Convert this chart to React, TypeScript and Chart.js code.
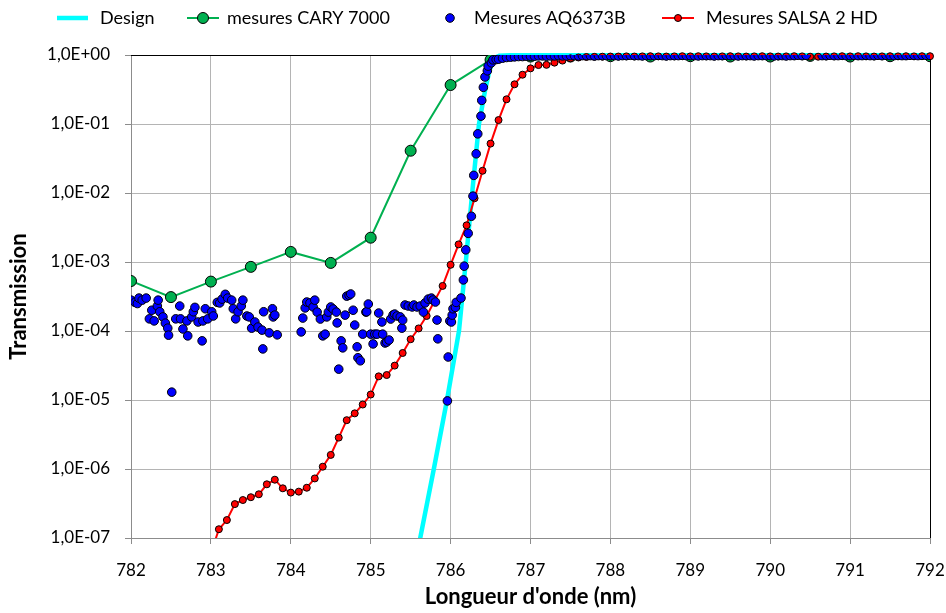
import React, { useEffect, useRef } from 'react';
import { Chart, registerables } from 'chart.js';
Chart.register(...registerables);

const seriesNames = ['Design', 'mesures CARY 7000', 'Mesures AQ6373B', 'Mesures SALSA 2 HD'];
const xAxisTitle = "Longueur d'onde (nm)";
const yAxisTitle = 'Transmission';
const xTickValues = [782, 783, 784, 785, 786, 787, 788, 789, 790, 791, 792];
const yTickValues = [1e-7, 1e-6, 1e-5, 1e-4, 1e-3, 1e-2, 1e-1, 1];
const yTickLabels = ['1,0E-07', '1,0E-06', '1,0E-05', '1,0E-04', '1,0E-03', '1,0E-02', '1,0E-01', '1,0E+00'];

const designWl = [785.55, 785.62, 785.79, 785.955, 786.105, 786.19, 786.27, 786.355, 786.43, 786.487, 786.545, 786.61, 786.74, 792.0];
const designT = [4e-8, 1e-7, 1e-6, 1e-5, 1e-4, 1e-3, 1e-2, 1e-1, 0.3, 0.6, 0.9, 0.98, 0.995, 0.995];

const caryWl = [782, 782.5, 783, 783.5, 784, 784.5, 785, 785.5, 786, 786.5, 787, 787.5, 788, 788.5, 789, 789.5, 790, 790.5, 791, 791.5, 792];
const caryT = [5.3e-4, 3.1e-4, 5.2e-4, 8.5e-4, 1.4e-3, 9.7e-4, 2.25e-3, 4.1e-2, 0.367, 0.85, 0.95, 0.95, 0.96, 0.95, 0.96, 0.95, 0.95, 0.97, 0.95, 0.96, 0.96];

const aqWl = [
  782.00, 782.05, 782.08, 782.10, 782.14, 782.19, 782.23, 782.26, 782.29, 782.33, 782.34, 782.36, 782.40, 782.43, 782.46, 782.47,
  782.51, 782.56, 782.61, 782.62, 782.65, 782.70, 782.71, 782.76, 782.78, 782.80, 782.84, 782.89, 782.90, 782.93, 782.96,
  783.01, 783.03, 783.08, 783.11, 783.14, 783.18, 783.21, 783.26, 783.28, 783.31, 783.34, 783.38, 783.40, 783.45, 783.48,
  783.51, 783.55, 783.59, 783.64, 783.65, 783.66, 783.73, 783.77, 783.78, 783.80, 783.83,
  784.13, 784.15, 784.18, 784.20, 784.24, 784.28, 784.30, 784.33, 784.37, 784.40, 784.43, 784.45, 784.47, 784.50, 784.53,
  784.57, 784.58, 784.60, 784.63, 784.65, 784.68, 784.70, 784.73, 784.75, 784.78, 784.80, 784.83, 784.84, 784.87, 784.90,
  784.94, 784.95, 784.97, 785.00, 785.03, 785.05, 785.08, 785.10, 785.14, 785.15, 785.18, 785.20, 785.23, 785.25, 785.28,
  785.30, 785.33, 785.37, 785.39, 785.40, 785.43, 785.47, 785.52, 785.54, 785.58, 785.62, 785.66, 785.68, 785.72, 785.76,
  785.78, 785.81, 785.83, 785.84, 785.96, 785.97, 785.99, 786.01, 786.02, 786.03, 786.06, 786.07, 786.13, 786.16, 786.17,
  786.19, 786.22, 786.26, 786.28, 786.29, 786.32, 786.34, 786.38, 786.39, 786.41, 786.43, 786.46, 786.47, 786.51, 786.53, 786.57,
  786.60, 786.65, 786.70, 786.75, 786.80, 786.85, 786.90, 786.95,
  787.00, 787.05, 787.10, 787.15, 787.20, 787.25, 787.30, 787.35, 787.40, 787.45, 787.50, 787.55, 787.60, 787.65, 787.70, 787.75, 787.80, 787.85, 787.90, 787.95,
  788.00, 788.05, 788.10, 788.15, 788.20, 788.25, 788.30, 788.35, 788.40, 788.45, 788.50, 788.55, 788.60, 788.65, 788.70, 788.75, 788.80, 788.85, 788.90, 788.95,
  789.00, 789.05, 789.10, 789.15, 789.20, 789.25, 789.30, 789.35, 789.40, 789.45, 789.50, 789.55, 789.60, 789.65, 789.70, 789.75, 789.80, 789.85, 789.90, 789.95,
  790.00, 790.05, 790.10, 790.15, 790.20, 790.25, 790.30, 790.35, 790.40, 790.45,
  790.65, 790.70, 790.75, 790.80, 790.85, 790.90, 790.95,
  791.00, 791.05, 791.10, 791.15, 791.20, 791.25, 791.30, 791.35, 791.40, 791.45, 791.50, 791.55, 791.60, 791.65, 791.70, 791.75, 791.80, 791.85, 791.90, 791.95,
  792.00,
];
const aqT = [
  2.8e-4, 2.6e-4, 2.5e-4, 3.0e-4, 2.8e-4, 3.0e-4, 1.5e-4, 2.0e-4, 1.4e-4, 2.3e-4, 2.8e-4, 1.9e-4, 1.6e-4, 1.3e-4, 1.1e-4, 8.7e-5,
  1.3e-5, 1.5e-4, 2.3e-4, 1.5e-4, 1.07e-4, 1.4e-4, 8.5e-5, 1.6e-4, 1.9e-4, 2.2e-4, 1.35e-4, 7.2e-5, 1.4e-4, 2.1e-4, 1.5e-4,
  1.9e-4, 1.65e-4, 2.6e-4, 2.55e-4, 2.9e-4, 3.4e-4, 3.0e-4, 2.8e-4, 2.1e-4, 1.5e-4, 1.9e-4, 2.3e-4, 2.8e-4, 1.65e-4, 1.6e-4,
  1.1e-4, 1.35e-4, 1.14e-4, 1.03e-4, 5.5e-5, 1.9e-4, 9.4e-5, 2.1e-4, 1.6e-4, 1.7e-4, 8.8e-5,
  9.7e-5, 1.54e-4, 2.16e-4, 2.63e-4, 2.55e-4, 2.23e-4, 2.8e-4, 1.88e-4, 1.49e-4, 8.5e-5, 9.0e-5, 1.6e-4, 1.88e-4, 2.23e-4, 2.08e-4,
  1.88e-4, 1.31e-4, 2.8e-5, 7.2e-5, 5.7e-5, 1.7e-4, 3.2e-4, 3.3e-4, 3.44e-4, 2.0e-4, 1.22e-4, 5.9e-5, 4.1e-5, 3.7e-5, 9.0e-5,
  1.88e-4, 1.9e-4, 2.46e-4, 9.0e-5, 6.5e-5, 9.0e-5, 9.0e-5, 1.82e-4, 1.35e-4, 9.0e-5, 6.7e-5, 6.9e-5, 7.4e-5, 1.49e-4, 1.71e-4,
  1.76e-4, 1.65e-4, 1.6e-4, 1.1e-4, 1.44e-4, 2.38e-4, 2.3e-4, 2.23e-4, 2.38e-4, 2.23e-4, 2.3e-4, 1.88e-4, 2.55e-4, 2.9e-4, 3.0e-4,
  2.81e-4, 2.63e-4, 1.44e-4, 7.7e-5, 9.7e-6, 4.2e-5, 1.4e-4, 1.35e-4, 1.7e-4, 2.1e-4, 2.2e-4, 2.6e-4, 3.0e-4, 5.5e-4, 8.7e-4,
  1.5e-3, 2.6e-3, 4.6e-3, 9.0e-3, 1.8e-2, 3.7e-2, 7.2e-2, 1.3e-1, 2.2e-1, 3.4e-1, 4.8e-1, 5.9e-1, 6.9e-1, 7.7e-1, 8.5e-1, 8.6e-1,
  0.87, 0.90, 0.92, 0.93, 0.94, 0.95, 0.95, 0.96,
  0.96, 0.96, 0.97, 0.97, 0.96, 0.97, 0.97, 0.98, 0.97, 0.97, 0.98, 0.98, 0.97, 0.98, 0.98, 0.98, 0.97, 0.98, 0.98, 0.98,
  0.98, 0.98, 0.97, 0.98, 0.98, 0.99, 0.98, 0.98, 0.97, 0.98, 0.98, 0.98, 0.99, 0.98, 0.97, 0.98, 0.98, 0.98, 0.99, 0.98,
  0.98, 0.98, 0.97, 0.98, 0.98, 0.98, 0.97, 0.98, 0.98, 0.99, 0.98, 0.98, 0.97, 0.98, 0.98, 0.98, 0.97, 0.98, 0.98, 0.98,
  0.98, 0.97, 0.98, 0.98, 0.97, 0.98, 0.98, 0.99, 0.98, 0.99,
  0.98, 0.98, 0.99, 0.98, 0.98, 0.99, 0.98,
  0.98, 0.99, 0.98, 0.98, 0.99, 0.98, 0.98, 0.99, 0.98, 0.99, 0.98, 0.98, 0.99, 0.98, 0.98, 0.99, 0.99, 0.98, 0.99, 0.99,
  0.99,
];

const salsaWl = [
  783.0, 783.1, 783.2, 783.3, 783.4, 783.5, 783.6, 783.7, 783.8, 783.9,
  784.0, 784.1, 784.2, 784.3, 784.4, 784.5, 784.6, 784.7, 784.8, 784.9,
  785.0, 785.1, 785.2, 785.3, 785.4, 785.5, 785.6, 785.7, 785.8, 785.9,
  786.0, 786.1, 786.2, 786.3, 786.4, 786.5, 786.6, 786.7, 786.8, 786.9,
  787.0, 787.1, 787.2, 787.3, 787.4, 787.5, 787.6, 787.7, 787.8, 787.9,
  788.0, 788.1, 788.2, 788.3, 788.4, 788.5, 788.6, 788.7, 788.8, 788.9,
  789.0, 789.1, 789.2, 789.3, 789.4, 789.5, 789.6, 789.7, 789.8, 789.9,
  790.0, 790.1, 790.2, 790.3, 790.4, 790.5, 790.6, 790.7, 790.8, 790.9,
  791.0, 791.1, 791.2, 791.3, 791.4, 791.5, 791.6, 791.7, 791.8, 791.9,
  792.0,
];
const salsaT = [
  6e-8, 1.34e-7, 1.82e-7, 3.1e-7, 3.55e-7, 3.9e-7, 4.3e-7, 6.0e-7, 7.0e-7, 5.25e-7,
  4.55e-7, 4.7e-7, 5.35e-7, 7.3e-7, 1.08e-6, 1.6e-6, 2.85e-6, 5.1e-6, 6.4e-6, 8.6e-6,
  1.2e-5, 2.2e-5, 2.3e-5, 3.15e-5, 4.8e-5, 7.6e-5, 1.09e-4, 1.65e-4, 2.75e-4, 4.5e-4,
  9.1e-4, 1.8e-3, 3.4e-3, 8.4e-3, 2.1e-2, 5.2e-2, 0.114, 0.228, 0.376, 0.518,
  0.64, 0.715, 0.72, 0.775, 0.83, 0.895, 0.92, 0.935, 0.94, 0.945,
  0.95, 0.95, 0.955, 0.95, 0.955, 0.96, 0.955, 0.95, 0.955, 0.96,
  0.955, 0.96, 0.955, 0.95, 0.955, 0.96, 0.955, 0.95, 0.955, 0.96,
  0.955, 0.95, 0.955, 0.96, 0.955, 0.945, 0.945, 0.95, 0.955, 0.96,
  0.955, 0.96, 0.955, 0.95, 0.955, 0.96, 0.955, 0.96, 0.955, 0.96,
  0.96,
];

const pts = (xs: number[], ys: number[]) => xs.map((x, i) => ({ x, y: ys[i] }));

const CYAN = '#00FFFF';
const GREEN = '#00B050';
const BLUE = '#0000FF';
const RED = '#FF0000';
const FONT = 'Lato';

const framePlugin = {
  id: 'frame',
  beforeDatasetsDraw(chart: any) {
    const { ctx, chartArea } = chart;
    const { left, right, top, bottom } = chartArea;
    ctx.save();
    ctx.strokeStyle = '#000';
    ctx.lineWidth = 1;
    ctx.beginPath();
    ctx.moveTo(left, Math.round(top) + 0.5);
    ctx.lineTo(Math.round(right) + 0.5, Math.round(top) + 0.5);
    ctx.lineTo(Math.round(right) + 0.5, bottom);
    ctx.stroke();
    ctx.restore();
  },
};

function marker(ctx: CanvasRenderingContext2D, x: number, y: number, r: number, fill: string) {
  ctx.beginPath();
  ctx.arc(x, y, r, 0, Math.PI * 2);
  ctx.fillStyle = fill;
  ctx.fill();
  ctx.lineWidth = 1;
  ctx.strokeStyle = '#000';
  ctx.stroke();
}

const legendPlugin = {
  id: 'manualLegend',
  afterDraw(chart: any) {
    const ctx: CanvasRenderingContext2D = chart.ctx;
    const y = 18;
    ctx.save();
    ctx.font = `18px ${FONT}`;
    ctx.textBaseline = 'middle';
    ctx.textAlign = 'left';
    // Design
    ctx.strokeStyle = CYAN;
    ctx.lineWidth = 4.5;
    ctx.beginPath();
    ctx.moveTo(57, y);
    ctx.lineTo(88, y);
    ctx.stroke();
    ctx.fillStyle = '#000';
    ctx.fillText(seriesNames[0], 100, y);
    // CARY
    ctx.strokeStyle = GREEN;
    ctx.lineWidth = 2;
    ctx.beginPath();
    ctx.moveTo(187, y);
    ctx.lineTo(219, y);
    ctx.stroke();
    marker(ctx, 203, y, 5.5, GREEN);
    ctx.fillStyle = '#000';
    ctx.fillText(seriesNames[1], 227, y);
    // AQ
    marker(ctx, 450, y, 4.3, BLUE);
    ctx.fillStyle = '#000';
    ctx.fillText(seriesNames[2], 474, y);
    // SALSA
    ctx.strokeStyle = RED;
    ctx.lineWidth = 2;
    ctx.beginPath();
    ctx.moveTo(662, y);
    ctx.lineTo(694, y);
    ctx.stroke();
    marker(ctx, 678, y, 3.5, RED);
    ctx.fillStyle = '#000';
    ctx.fillText(seriesNames[3], 706, y);
    ctx.restore();
  },
};

function yLabel(v: number) {
  const i = yTickValues.findIndex((t) => Math.abs(Math.log10(t) - Math.log10(v)) < 1e-6);
  return i >= 0 ? yTickLabels[i] : '';
}

export default function App() {
  const ref = useRef<HTMLCanvasElement>(null);
  useEffect(() => {
    const canvas = ref.current;
    if (!canvas) return;
    const chart = new Chart(canvas, {
      type: 'scatter',
      data: {
        datasets: [
          {
            label: seriesNames[0],
            data: pts(designWl, designT),
            showLine: true,
            borderColor: CYAN,
            backgroundColor: CYAN,
            borderWidth: 4.5,
            pointRadius: 0,
            order: 4,
            clip: { left: 5, right: 5, top: 5, bottom: 0 },
          },
          {
            label: seriesNames[1],
            data: pts(caryWl, caryT),
            showLine: true,
            borderColor: GREEN,
            borderWidth: 2,
            backgroundColor: GREEN,
            pointBackgroundColor: GREEN,
            pointBorderColor: '#000',
            pointBorderWidth: 1,
            pointRadius: 5.5,
            order: 3,
          },
          {
            label: seriesNames[2],
            data: pts(aqWl, aqT),
            showLine: false,
            backgroundColor: BLUE,
            pointBackgroundColor: BLUE,
            pointBorderColor: '#000',
            pointBorderWidth: 1,
            pointRadius: 4.3,
            order: 1,
          },
          {
            label: seriesNames[3],
            data: pts(salsaWl, salsaT),
            showLine: true,
            borderColor: RED,
            borderWidth: 2,
            backgroundColor: RED,
            pointBackgroundColor: RED,
            pointBorderColor: '#000',
            pointBorderWidth: 1,
            pointRadius: 3.5,
            order: 2,
            clip: { left: 5, right: 5, top: 5, bottom: 0 },
          },
        ],
      },
      options: {
        animation: false,
        responsive: false,
        devicePixelRatio: 1,
        layout: { padding: { top: 55, right: 16, left: 0, bottom: 0 } },
        plugins: { legend: { display: false }, tooltip: { enabled: false } },
        scales: {
          x: {
            type: 'linear',
            position: 'bottom',
            min: 782,
            max: 792,
            afterBuildTicks: (s: any) => {
              s.ticks = xTickValues.map((v) => ({ value: v }));
            },
            afterFit: (s: any) => {
              s.height = 75;
              s.paddingLeft = 0;
              s.paddingRight = 16;
            },
            ticks: {
              color: '#000',
              font: { size: 17, family: FONT },
              padding: 16,
              maxRotation: 0,
              autoSkip: false,
              callback: (v: any) => String(v),
            },
            grid: { color: '#b4b4b4', lineWidth: 1, tickLength: 6, tickColor: '#8c8c8c', drawTicks: true },
            border: { color: '#8c8c8c', width: 1 },
            title: {
              display: true,
              text: xAxisTitle,
              color: '#000',
              font: { size: 22, weight: 'bold', family: FONT },
              padding: { top: 0, bottom: 3 },
            },
          },
          y: {
            type: 'logarithmic',
            min: 1e-7,
            max: 1,
            afterBuildTicks: (s: any) => {
              s.ticks = yTickValues.map((v) => ({ value: v }));
            },
            afterFit: (s: any) => {
              s.width = 131;
            },
            ticks: {
              color: '#000',
              font: { size: 17, family: FONT },
              padding: 15,
              autoSkip: false,
              callback: (v: any) => yLabel(Number(v)),
            },
            grid: { color: '#b4b4b4', lineWidth: 1, tickLength: 6, tickColor: '#8c8c8c', drawTicks: true },
            border: { color: '#8c8c8c', width: 1 },
            title: {
              display: true,
              text: yAxisTitle,
              color: '#000',
              font: { size: 22, weight: 'bold', family: FONT },
              padding: { top: 6, bottom: 0 },
            },
          },
        },
      } as any,
      plugins: [framePlugin, legendPlugin],
    });
    return () => chart.destroy();
  }, []);
  return (
    <div style={{ position: 'absolute', left: 0, top: 0, width: 946, height: 613 }}>
      <canvas ref={ref} width={946} height={613} style={{ display: 'block' }} />
    </div>
  );
}
